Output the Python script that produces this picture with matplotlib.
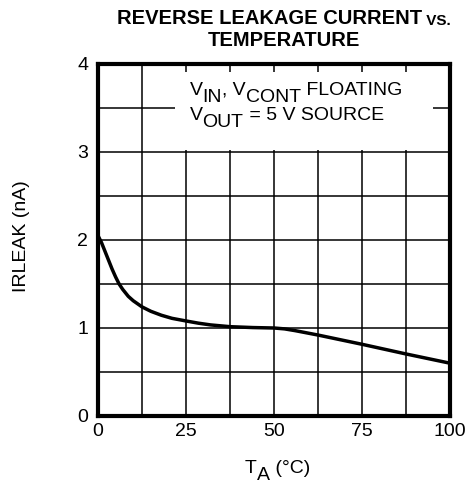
import matplotlib
matplotlib.use('Agg')
import matplotlib.pyplot as plt

plt.rcParams['font.family'] = ['Liberation Sans', 'DejaVu Sans']

# curve (temperature in C, leakage in nA)
temp = [0, 1, 2, 3, 4, 5, 6, 7, 8.6, 10, 12.5, 15, 18, 21, 25, 28.5, 32,
        37.5, 44, 50, 53, 56, 59, 62.5, 75, 87.5, 100]
leak = [2.05, 1.97, 1.87, 1.77, 1.67, 1.58, 1.5, 1.44, 1.36, 1.31, 1.24,
        1.19, 1.145, 1.11, 1.08, 1.055, 1.035, 1.015, 1.005, 1.0, 0.99,
        0.97, 0.947, 0.92, 0.815, 0.705, 0.6]

x_ticks = [0, 25, 50, 75, 100]
y_ticks = [0, 1, 2, 3, 4]

FS = 14
W, H = 474, 484
fig = plt.figure(figsize=(W / 100, H / 100), dpi=100)
ax = fig.add_axes([98 / W, 1 - 416 / H, 352 / W, 352 / H])

ax.set_xlim(0, 100)
ax.set_ylim(0, 4)
ax.set_xticks(x_ticks)
ax.set_yticks(y_ticks)
ax.set_xticks([i * 12.5 for i in range(9) if i % 2], minor=True)
ax.set_yticks([i * 0.5 for i in range(9) if i % 2], minor=True)
ax.tick_params(which='both', length=0, labelsize=FS)
ax.tick_params(axis='y', pad=7)
ax.tick_params(axis='x', pad=5)
ax.grid(which='both', color='black', lw=1.1, zorder=1)
ax.set_axisbelow(True)
for s in ax.spines.values():
    s.set_linewidth(3)
    s.set_zorder(5)

# white box behind the annotation
ax.add_patch(plt.Rectangle((22, 3.02), 73.2, 0.89, facecolor='white',
                           edgecolor='none', zorder=2))

ax.plot(temp, leak, color='black', lw=2.5, zorder=4, solid_capstyle='butt')


def chain(start, segments, size, weight='normal'):
    prev = start
    for txt, dy in segments:
        prev = ax.annotate(txt, xy=(1, 0), xycoords=prev, xytext=(0, dy),
                           textcoords='offset points', ha='left', va='bottom',
                           fontsize=size, fontweight=weight, zorder=6,
                           annotation_clip=False)
    return prev


drop = 5
t1 = ax.text(26, 3.65, 'V', fontsize=FS, va='baseline', ha='left', zorder=6)
chain(t1, [('IN', -drop), (', V', drop), ('CONT', -drop), (' FLOATING', drop)], FS)
t2 = ax.text(26, 3.36, 'V', fontsize=FS, va='baseline', ha='left', zorder=6)
chain(t2, [('OUT', -drop), (' = 5 V SOURCE', drop)], FS)

# y label
fig.text(22 / W, 1 - 236 / H, 'IRLEAK (nA)', rotation=90, fontsize=FS,
         ha='center', va='center')

# x label
xl = fig.text(245 / W, 1 - 473 / H, 'T', fontsize=FS, ha='left', va='baseline')
chain(xl, [('A', -drop), (' (°C)', drop)], FS)

# title
tt = fig.text(117 / W, 1 - 24 / H, 'REVERSE LEAKAGE CURRENT', fontsize=14.5,
              fontweight='bold', ha='left', va='baseline')
chain(tt, [(' VS.', 0)], 11, weight='bold')
fig.text(284 / W, 1 - 45.5 / H, 'TEMPERATURE', fontsize=14.5, fontweight='bold',
         ha='center', va='baseline')

fig.savefig('out.png', dpi=100)
